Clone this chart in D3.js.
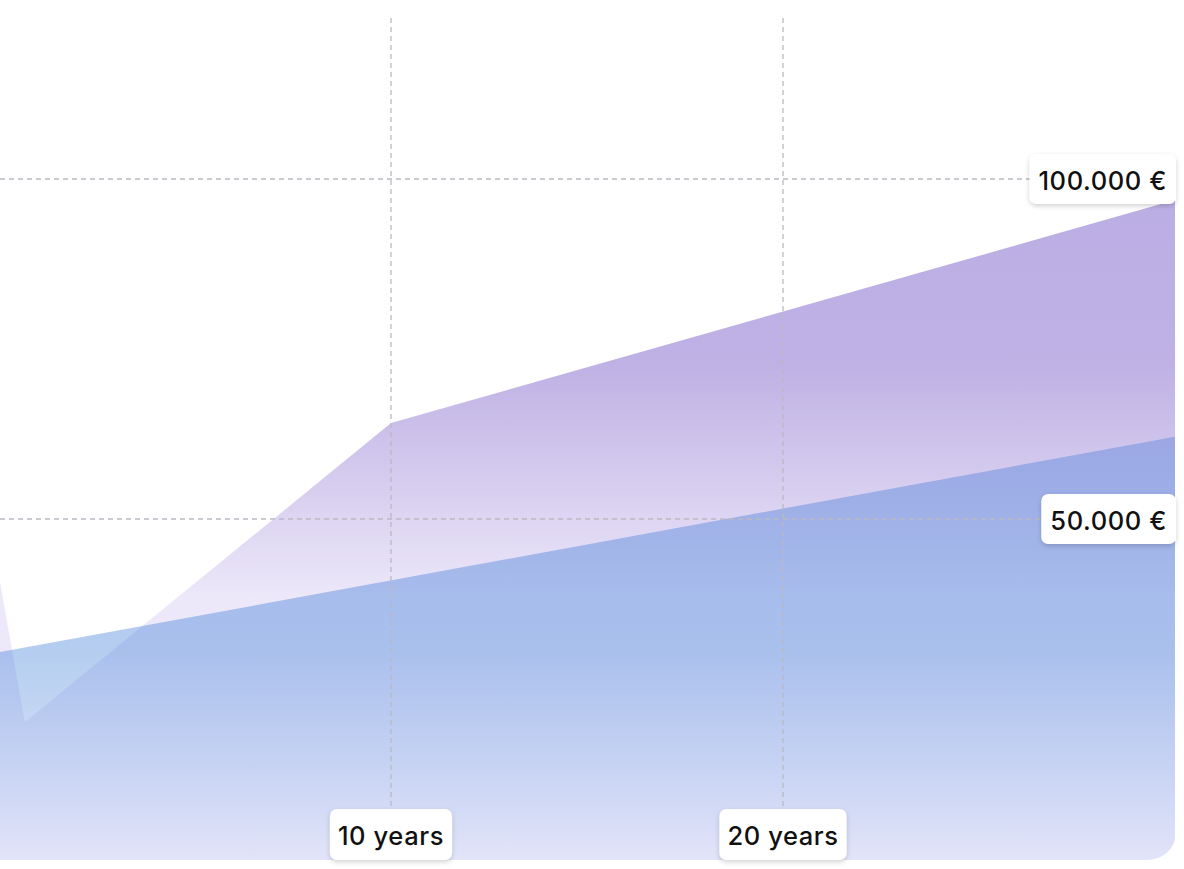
<!DOCTYPE html>
<html>
<head>
<meta charset="utf-8">
<script src="https://cdn.jsdelivr.net/npm/d3@7"></script>
<style>
  html, body { margin: 0; padding: 0; background: #fff; }
  svg { display: block; }
</style>
</head>
<body>
<svg id="chart" width="1184" height="869"></svg>
<script>
// data
const xTicks = [10, 20];
const yTicks = [50000, 100000];
const blueYears = [0, 30];
const blueValues = [30400, 62100];
const purpleYears = [0, 0.66, 10, 30];
const purpleValues = [41500, 20150, 64100, 96900];

const svg = d3.select("#chart"),
      width = +svg.attr("width"),
      height = +svg.attr("height");

const x = d3.scaleLinear().domain([0, 30]).range([-1, 1175]);
const y = d3.scaleLinear().domain([0, 100000]).range([859, 179]);
const bottom = 860, right = 1176;

const locale = d3.formatLocale({ decimal: ",", thousands: ".", grouping: [3], currency: ["", " €"] });
const fmt = locale.format("$,");

const defs = svg.append("defs");

defs.append("clipPath").attr("id", "plotClip")
  .append("rect")
  .attr("x", -40).attr("y", -40)
  .attr("width", right + 40).attr("height", bottom + 40)
  .attr("rx", 28);

const purpleGrad = defs.append("linearGradient")
  .attr("id", "purpleGrad")
  .attr("gradientUnits", "userSpaceOnUse")
  .attr("x1", 0).attr("x2", 0).attr("y1", 200).attr("y2", bottom);
purpleGrad.append("stop").attr("offset", "0%").attr("stop-color", "#bbaee4");
purpleGrad.append("stop").attr("offset", "25%").attr("stop-color", "#bfb1e4");
purpleGrad.append("stop").attr("offset", "60%").attr("stop-color", "#ece7f9");
purpleGrad.append("stop").attr("offset", "100%").attr("stop-color", "#f1eefb");

const blueGrad = defs.append("linearGradient")
  .attr("id", "blueGrad")
  .attr("gradientUnits", "userSpaceOnUse")
  .attr("x1", 0).attr("x2", 0).attr("y1", 437).attr("y2", bottom);
blueGrad.append("stop").attr("offset", "0%").attr("stop-color", "#7292de").attr("stop-opacity", 0.55);
blueGrad.append("stop").attr("offset", "50%").attr("stop-color", "#4382d9").attr("stop-opacity", 0.4);
blueGrad.append("stop").attr("offset", "100%").attr("stop-color", "#d0d8f6").attr("stop-opacity", 0.45);

const shadow = defs.append("filter").attr("id", "shadow")
  .attr("x", "-20%").attr("y", "-30%").attr("width", "140%").attr("height", "170%");
shadow.append("feDropShadow")
  .attr("dx", 0).attr("dy", 2).attr("stdDeviation", 2.5)
  .attr("flood-color", "#000").attr("flood-opacity", 0.18);

const plot = svg.append("g").attr("clip-path", "url(#plotClip)");

const area = d3.area()
  .x(d => x(d[0]))
  .y0(y(0) + 40)
  .y1(d => y(d[1]));

plot.append("path")
  .datum(d3.zip(purpleYears, purpleValues))
  .attr("d", area)
  .attr("fill", "url(#purpleGrad)");

plot.append("path")
  .datum(d3.zip(blueYears, blueValues))
  .attr("d", area)
  .attr("fill", "url(#blueGrad)");

// grid
const grid = svg.append("g")
  .attr("stroke", "#b9b9c2")
  .attr("stroke-width", 1.3)
  .attr("stroke-dasharray", "5,4");

grid.selectAll(".vgrid")
  .data(xTicks)
  .join("line")
  .attr("class", "vgrid")
  .attr("x1", d => x(d)).attr("x2", d => x(d))
  .attr("y1", 18).attr("y2", bottom - 30);

grid.selectAll(".hgrid")
  .data(yTicks)
  .join("line")
  .attr("class", "hgrid")
  .attr("x1", 0).attr("x2", right - 100)
  .attr("y1", d => y(d)).attr("y2", d => y(d));

// label boxes
function label(g, text) {
  const box = g.append("rect")
    .attr("fill", "#fff")
    .attr("rx", 7)
    .attr("filter", "url(#shadow)");
  const t = g.append("text")
    .attr("font-family", "Inter, 'Noto Sans', sans-serif")
    .attr("font-weight", 500)
    .attr("font-size", "25.5px")
    .attr("letter-spacing", "0.6px")
    .attr("fill", "#111")
    .attr("dominant-baseline", "central")
    .text(text);
  const w = t.node().getComputedTextLength();
  return { box, t, w };
}

const yLabels = svg.append("g");
yTicks.forEach(v => {
  const g = yLabels.append("g").attr("transform", `translate(${right}, ${y(v)})`);
  const { box, t, w } = label(g, fmt(v));
  const bw = w + 18;
  box.attr("x", -bw).attr("y", -25).attr("width", bw).attr("height", 50);
  t.attr("x", -bw + 9).attr("y", 1);
});

const xLabels = svg.append("g");
xTicks.forEach(v => {
  const g = xLabels.append("g").attr("transform", `translate(${x(v)}, ${bottom})`);
  const { box, t, w } = label(g, `${v} years`);
  const bw = w + 16;
  box.attr("x", -bw / 2).attr("y", -51).attr("width", bw).attr("height", 51);
  t.attr("x", -w / 2).attr("y", -25);
});
</script>
</body>
</html>
